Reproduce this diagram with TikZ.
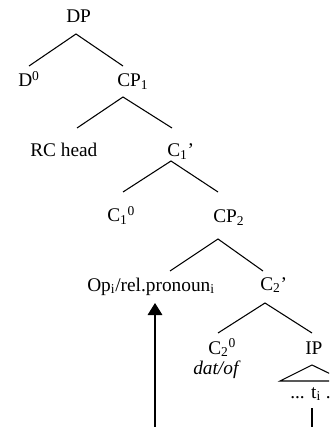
\documentclass[tikz,border=0pt]{standalone}
\usepackage{fontspec}
\setmainfont{Liberation Serif}
\usetikzlibrary{arrows.meta}
\begin{document}
\begin{tikzpicture}[x=0.75pt,y=-0.75pt,
  lbl/.style={inner sep=0pt,anchor=base west,font=\fontsize{14.5}{17}\selectfont},
  branch/.style={line width=0.8pt},
  move/.style={line width=0.8pt,-{Triangle[width=11pt,length=9pt]}}]
\useasboundingbox (0,0) rectangle (329,427);
\clip (0,0) rectangle (329,427);

% labels
\node[lbl] (dp)   at (66,23)  {DP};
\node[lbl] (d0)   at (18,87)  {D\textsuperscript{0}};
\node[lbl] (cp1)  at (117,87) {CP\textsubscript{1}};
\node[lbl] (rch)  at (30,157) {RC head};
\node[lbl] (c1b)  at (167,157) {C\textsubscript{1}’};
\node[lbl] (c10)  at (107,222) {C\textsubscript{1}\textsuperscript{0}};
\node[lbl] (cp2)  at (213,223) {CP\textsubscript{2}};
\node[lbl] (op)   at (87,291) {Op\textsubscript{i}/rel.pronoun\textsubscript{i}};
\node[lbl] (c2b)  at (260,290) {C\textsubscript{2}’};
\node[lbl] (c20)  at (208,354) {C\textsubscript{2}\textsuperscript{0}};
\node[lbl] (dat)  at (193,374) {\itshape dat/of};
\node[lbl] (ip)   at (305,354) {IP};
\node[lbl] (tr)   at (290,398) {... t\textsubscript{i} ...};

% branch points
\coordinate (dp-j)  at (76,34);
\coordinate (d0-t)  at (29,66);
\coordinate (cp1-t) at (123,66);
\coordinate (cp1-j) at (123,97);
\coordinate (rch-t) at (77,128);
\coordinate (c1b-t) at (172,128);
\coordinate (c1b-j) at (171,161);
\coordinate (c10-t) at (123,192);
\coordinate (cp2-t) at (218,192);
\coordinate (cp2-j) at (218,239);
\coordinate (op-t)  at (170,271);
\coordinate (c2b-t) at (263,271);
\coordinate (c2b-j) at (265,303);
\coordinate (c20-t) at (218,333);
\coordinate (ip-t)  at (312,333);
\coordinate (ip-j)  at (312,365);
\coordinate (ip-l)  at (280,381);
\coordinate (ip-r)  at (345,381);
\coordinate (tr-j)  at (312,408);
\coordinate (tr-f)  at (312,440);
\coordinate (mv-f)  at (155,440);
\coordinate (op-b)  at (155,303);

% tree branches
\draw[branch] (d0-t) -- (dp-j) -- (cp1-t);
\draw[branch] (rch-t) -- (cp1-j) -- (c1b-t);
\draw[branch] (c10-t) -- (c1b-j) -- (cp2-t);
\draw[branch] (op-t) -- (cp2-j) -- (c2b-t);
\draw[branch] (c20-t) -- (c2b-j) -- (ip-t);
\draw[branch] (ip-l) -- (ip-j) -- (ip-r) -- cycle;

% movement path
\draw[branch] (tr-j) -- (tr-f);
\draw[move] (mv-f) -- (op-b);
\end{tikzpicture}
\end{document}
